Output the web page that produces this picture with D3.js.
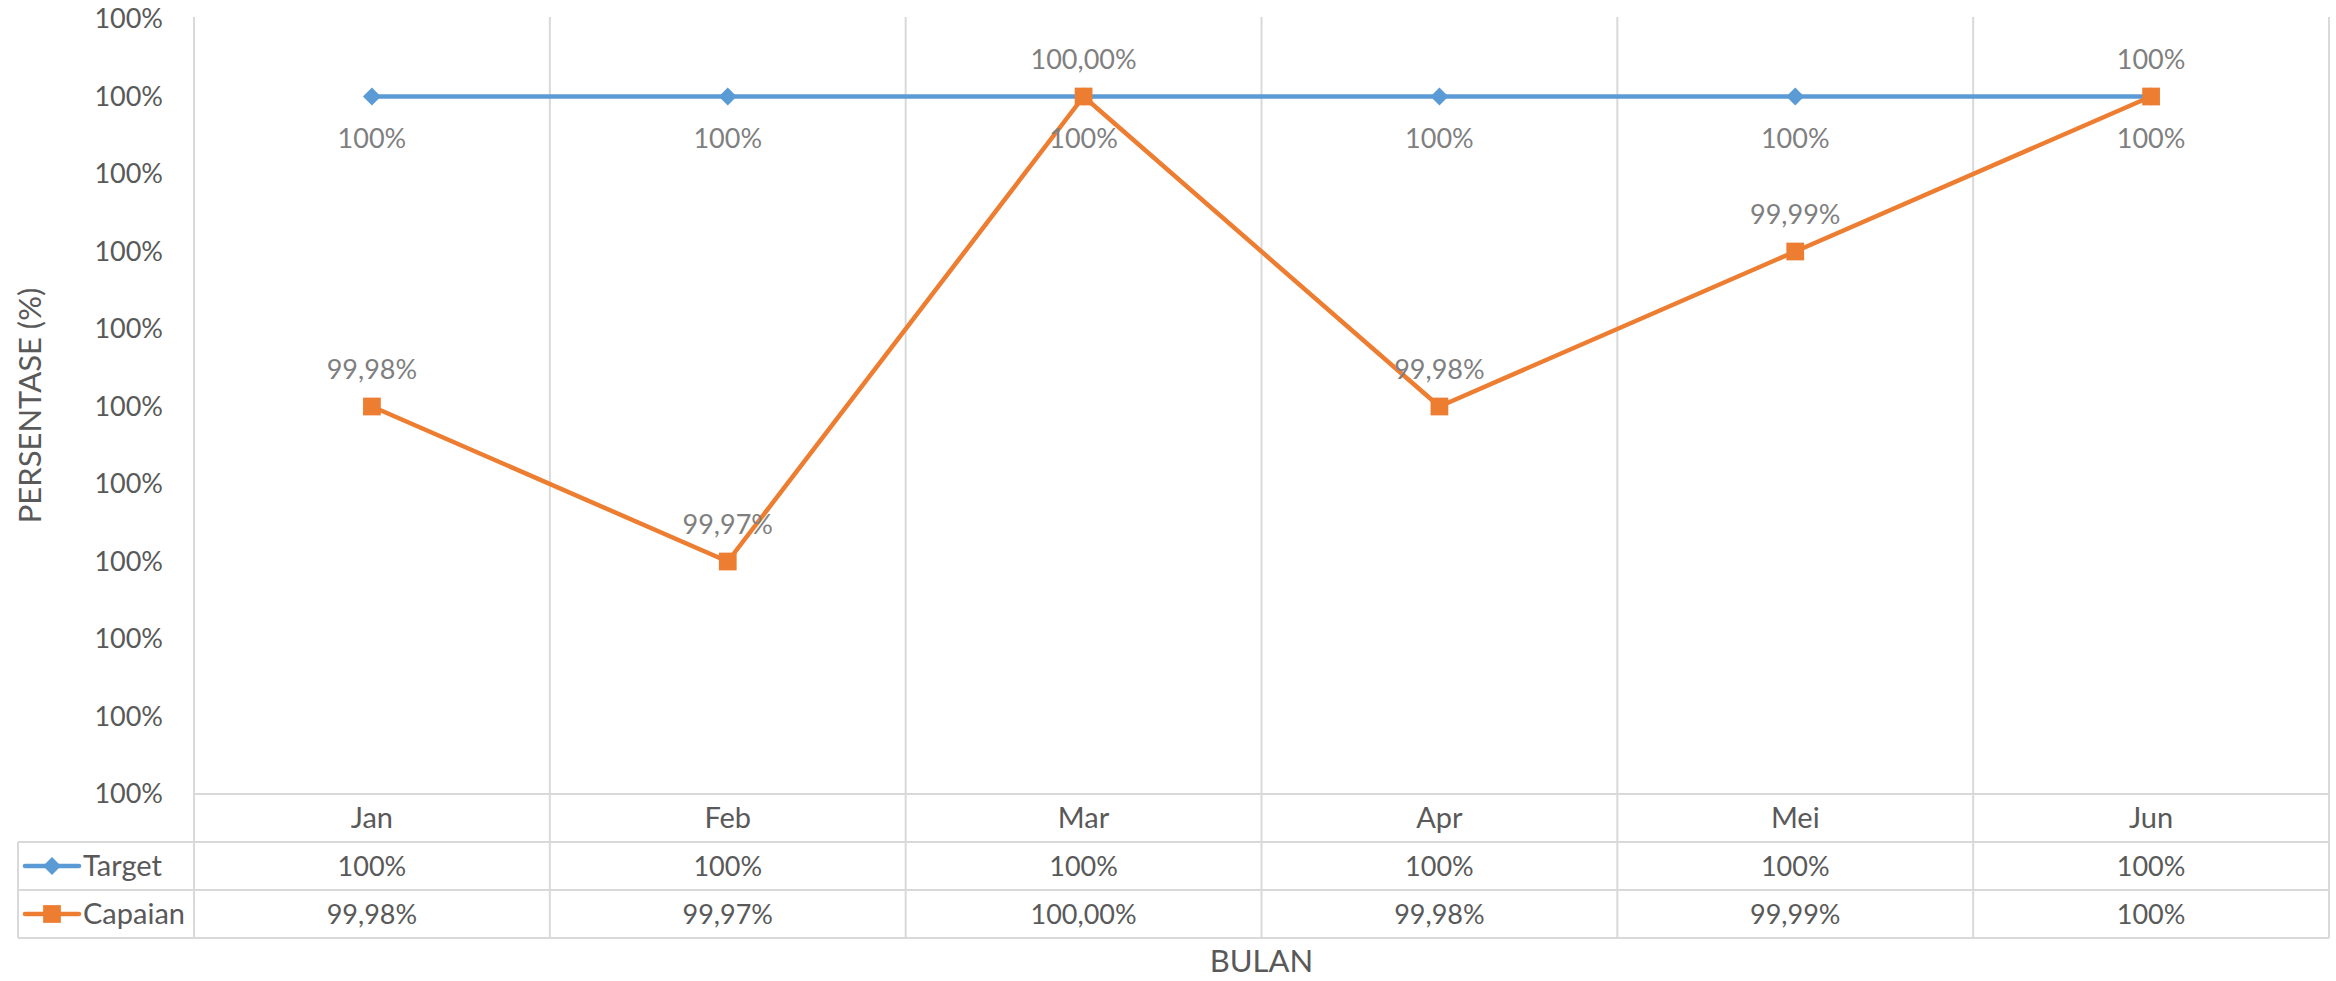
<!DOCTYPE html>
<html>
<head>
<meta charset="utf-8">
<script src="https://cdnjs.cloudflare.com/ajax/libs/d3/7.8.5/d3.min.js"></script>
<style>
  body { margin: 0; background: #fff; }
  text { font-family: Lato, "Liberation Sans", sans-serif; }
</style>
</head>
<body>
<div id="my_dataviz"></div>
<script>
// data
var months = ["Jan", "Feb", "Mar", "Apr", "Mei", "Jun"];
var target = [1, 1, 1, 1, 1, 1];
var capaian = [0.9998, 0.9997, 1.0000, 0.9998, 0.9999, 1.0000];
var targetLabels = ["100%", "100%", "100%", "100%", "100%", "100%"];
var capaianLabels = ["99,98%", "99,97%", "100,00%", "99,98%", "99,99%", "100%"];
var yTicks = [0.99955, 0.9996, 0.99965, 0.9997, 0.99975, 0.9998, 0.99985, 0.9999, 0.99995, 1.0, 1.00005];

var W = 2336, H = 981;
var margin = {top: 19, right: 7, bottom: 187, left: 194};
var rowH = 48;
var fs = 27;     // numbers
var fsWord = 29; // words
var fsTitle = 31;
var gridCol = "#d9d9d9";

var svg = d3.select("#my_dataviz")
  .append("svg")
    .attr("width", W)
    .attr("height", H);

var x = d3.scaleBand()
  .domain(months)
  .range([margin.left, W - margin.right]);

var y = d3.scaleLinear()
  .domain([yTicks[0], yTicks[yTicks.length - 1]])
  .range([H - margin.bottom, margin.top]);

var plotBottom = y(yTicks[0]);
var tableBottom = plotBottom + rowH * 3;

// vertical grid lines (they run through the data table too)
var bounds = months.map(function(m) { return x(m); }).concat([x.range()[1]]);
svg.append("g")
  .selectAll("line")
  .data(bounds)
  .enter().append("line")
    .attr("x1", function(d) { return d; })
    .attr("x2", function(d) { return d; })
    .attr("y1", margin.top - 2)
    .attr("y2", tableBottom)
    .attr("stroke", gridCol)
    .attr("stroke-width", 2);

// table horizontal lines
svg.append("line")
  .attr("x1", margin.left).attr("x2", x.range()[1])
  .attr("y1", plotBottom).attr("y2", plotBottom)
  .attr("stroke", gridCol).attr("stroke-width", 2);
[1, 2, 3].forEach(function(i) {
  svg.append("line")
    .attr("x1", 18).attr("x2", x.range()[1])
    .attr("y1", plotBottom + rowH * i).attr("y2", plotBottom + rowH * i)
    .attr("stroke", gridCol).attr("stroke-width", 2);
});
svg.append("line")
  .attr("x1", 18).attr("x2", 18)
  .attr("y1", plotBottom + rowH).attr("y2", tableBottom)
  .attr("stroke", gridCol).attr("stroke-width", 2);

// Y axis
var yAxis = svg.append("g")
  .attr("transform", "translate(" + margin.left + ",0)")
  .call(d3.axisLeft(y).tickValues(yTicks).tickFormat(d3.format(".0%")).tickSize(0).tickPadding(31));
yAxis.select(".domain").remove();
yAxis.selectAll("text")
  .style("font-size", fs + "px")
  .style("font-family", "Lato, 'Liberation Sans', sans-serif")
  .attr("fill", "#595959");

// axis titles
svg.append("text")
  .text("PERSENTASE (%)")
  .attr("transform", "translate(41," + (y(0.9998) - 1) + ") rotate(-90)")
  .attr("text-anchor", "middle")
  .style("font-size", fsTitle + "px")
  .attr("fill", "#595959");

svg.append("text")
  .text("BULAN")
  .attr("x", (margin.left + x.range()[1]) / 2)
  .attr("y", tableBottom + 34)
  .attr("text-anchor", "middle")
  .style("font-size", fsTitle + "px")
  .attr("fill", "#595959");

var cx = function(d, i) { return x(months[i]) + x.bandwidth() / 2; };

var series = [
  {name: "Target", values: target, labels: targetLabels, color: "#5b9bd5", marker: "diamond", below: true},
  {name: "Capaian", values: capaian, labels: capaianLabels, color: "#ed7d31", marker: "square", below: false}
];

var diamond = d3.symbol().type(d3.symbolSquare).size(160);
var square = d3.symbol().type(d3.symbolSquare).size(315);

series.forEach(function(s) {
  svg.append("path")
    .datum(s.values)
    .attr("fill", "none")
    .attr("stroke", s.color)
    .attr("stroke-width", 4.5)
    .attr("stroke-linejoin", "round")
    .attr("d", d3.line()
      .x(function(d, i) { return cx(d, i); })
      .y(function(d) { return y(d); })
    );

  svg.append("g")
    .selectAll("path")
    .data(s.values)
    .enter().append("path")
      .attr("d", s.marker === "diamond" ? diamond : square)
      .attr("transform", function(d, i) {
        return "translate(" + cx(d, i) + "," + y(d) + ")" + (s.marker === "diamond" ? " rotate(45)" : "");
      })
      .attr("fill", s.color);
});

// data labels on top of everything
series.forEach(function(s) {
  svg.append("g")
    .selectAll("text")
    .data(s.values)
    .enter().append("text")
      .text(function(d, i) { return s.labels[i]; })
      .attr("x", function(d, i) { return cx(d, i); })
      .attr("y", function(d) { return s.below ? y(d) + 51 : y(d) - 28; })
      .attr("text-anchor", "middle")
      .style("font-size", fs + "px")
      .attr("fill", "#7f7f7f");
});

// category row
svg.append("g")
  .selectAll("text")
  .data(months)
  .enter().append("text")
    .text(function(d) { return d; })
    .attr("x", function(d) { return x(d) + x.bandwidth() / 2; })
    .attr("y", plotBottom + rowH / 2 + 10)
    .attr("text-anchor", "middle")
    .style("font-size", fsWord + "px")
    .attr("fill", "#595959");

// table rows with legend keys
series.forEach(function(s, r) {
  var rowMid = plotBottom + rowH * (r + 1) + rowH / 2;
  svg.append("line")
    .attr("x1", 25).attr("x2", 79)
    .attr("y1", rowMid).attr("y2", rowMid)
    .attr("stroke", s.color).attr("stroke-width", 4.5)
    .attr("stroke-linecap", "round");
  svg.append("path")
    .attr("d", s.marker === "diamond" ? diamond : square)
    .attr("transform", "translate(52," + rowMid + ")" + (s.marker === "diamond" ? " rotate(45)" : ""))
    .attr("fill", s.color);
  svg.append("text")
    .text(s.name)
    .attr("x", 83)
    .attr("y", rowMid + 10)
    .style("font-size", fsWord + "px")
    .attr("fill", "#595959");

  svg.append("g")
    .selectAll("text")
    .data(s.labels)
    .enter().append("text")
      .text(function(d) { return d; })
      .attr("x", function(d, i) { return x(months[i]) + x.bandwidth() / 2; })
      .attr("y", rowMid + 10)
      .attr("text-anchor", "middle")
      .style("font-size", fs + "px")
      .attr("fill", "#595959");
});
</script>
</body>
</html>
